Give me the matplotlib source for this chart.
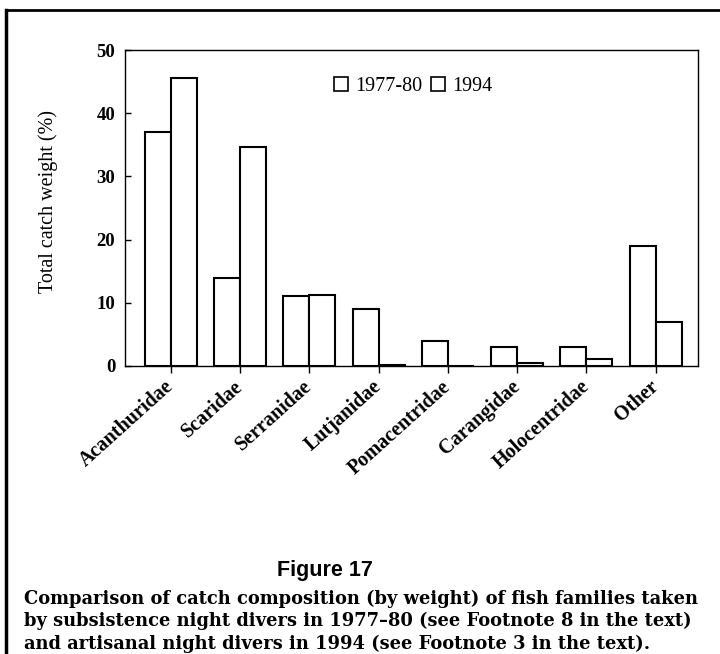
import numpy as np
import matplotlib.pyplot as plt
from matplotlib.patches import Patch
from matplotlib.lines import Line2D

# Catch composition by fish family, two survey periods

families = ['Acanthuridae', 'Scaridae', 'Serranidae', 'Lutjanidae',
            'Pomacentridae', 'Carangidae', 'Holocentridae', 'Other']
pct_1977 = [37.0, 14.0, 11.0, 9.0, 4.0, 3.0, 3.0, 19.0]
pct_1994 = [45.6, 34.6, 11.2, 0.1, 0.0, 0.4, 1.1, 6.9]
series_labels = ['1977-80', '1994']
yticks = [0, 10, 20, 30, 40, 50]

caption = ('Comparison of catch composition (by weight) of fish families taken\n'
           'by subsistence night divers in 1977\u201380 (see Footnote 8 in the text)\n'
           'and artisanal night divers in 1994 (see Footnote 3 in the text).')

serif = 'Liberation Serif'

fig = plt.figure(figsize=(7.2, 6.54), dpi=100)
ax = fig.add_axes([0.1736, 0.4404, 0.7958, 0.4831])

x = np.arange(len(families))
w = 0.375
ax.bar(x - w / 2, pct_1977, width=w, facecolor='white', edgecolor='black', linewidth=1.5)
ax.bar(x + w / 2, pct_1994, width=w, facecolor='white', edgecolor='black', linewidth=1.5)

ax.set_xlim(-0.66, 7.61)
ax.set_ylim(0, 50)
ax.set_yticks(yticks)
ax.set_yticklabels([str(t) for t in yticks], fontfamily=serif, fontweight='bold', fontsize=13.5)
ax.set_xticks(x)
ax.set_xticklabels(families, rotation=42, ha='right', va='center', rotation_mode='anchor',
                   fontfamily=serif, fontweight='bold', fontsize=14.5)
ax.tick_params(axis='y', direction='in', length=4, width=1, pad=7)
ax.tick_params(axis='x', direction='out', length=5, width=1, pad=8)
for sp in ax.spines.values():
    sp.set_linewidth(1.0)

ax.set_ylabel('Total catch weight (%)', fontfamily=serif, fontsize=14.5)
ax.yaxis.set_label_coords(-0.117, 0.52)

handles = [Patch(facecolor='white', edgecolor='black', linewidth=1.2) for _ in series_labels]
leg = ax.legend(handles, series_labels, ncol=2, frameon=False, loc='center',
                bbox_to_anchor=(0.503, 0.885), prop={'family': serif, 'size': 14.5},
                handlelength=0.7, handleheight=0.7, handletextpad=0.35, columnspacing=0.45)

fig.text(0.451, 0.128, 'Figure 17', ha='center', va='center', fontfamily='Liberation Sans',
         fontweight='bold', fontsize=15.5)
fig.text(0.034, 0.0505, caption, ha='left', va='center', fontfamily='DejaVu Serif',
         fontweight='bold', fontsize=12.85, linespacing=1.3)

# scanned page border (left and top)
fig.add_artist(Line2D([0.008, 0.008], [0, 0.984], transform=fig.transFigure, color='black', linewidth=2.5))
fig.add_artist(Line2D([0.008, 1.0], [0.984, 0.984], transform=fig.transFigure, color='black', linewidth=2.0))

fig.savefig('out.png', dpi=100)
